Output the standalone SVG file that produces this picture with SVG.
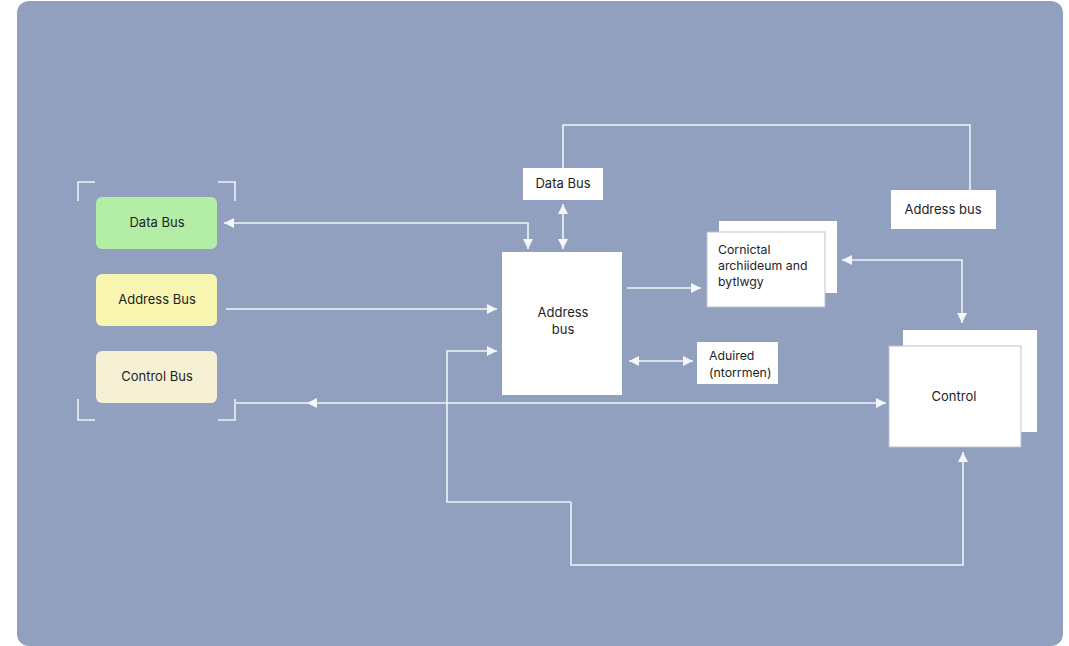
<svg xmlns="http://www.w3.org/2000/svg" width="1069" height="646" viewBox="0 0 1069 646">
<defs>
<marker id="ah" viewBox="0 0 10 10" refX="10" refY="5" markerWidth="10" markerHeight="10" markerUnits="userSpaceOnUse" orient="auto-start-reverse">
<path d="M0,0 L10,5 L0,10 z" fill="#f4f6fa"/>
</marker>
</defs>
<style>
.ln{fill:none;stroke:#f1f4f9;stroke-width:1.6}
.br{fill:none;stroke:#eef1f6;stroke-width:1.6}
.head{fill:#f4f6fa;stroke:none}
.box{fill:#ffffff}
.t{font-family:"Inter","Liberation Sans",sans-serif;font-size:13px;fill:#1e1e1e}
.ts{font-size:12.3px}
.tc{text-anchor:middle}
</style>
<rect x="17" y="1" width="1046" height="645" rx="12" fill="#91a0bf"/>

<g id="brackets">
<path class="br" d="M95,182 H78 V201"/>
<path class="br" d="M218,182 H235 V201"/>
<path class="br" d="M78,399 V420 H95"/>
<path class="br" d="M235,399 V420 H218"/>
</g>

<g id="connectors">
<path class="ln" d="M563,168 V125 H970 V190"/>
<path class="ln" d="M563,204 V249" marker-start="url(#ah)" marker-end="url(#ah)"/>
<path class="ln" d="M224,223 H528 V249" marker-start="url(#ah)" marker-end="url(#ah)"/>
<path class="ln" d="M226,309 H497" marker-end="url(#ah)"/>
<path class="ln" d="M571,502 H447 V351 H497" marker-end="url(#ah)"/>
<path class="ln" d="M571,502 V565 H963 V452" marker-end="url(#ah)"/>
<path class="ln" d="M627,288 H701" marker-end="url(#ah)"/>
<path class="ln" d="M629,361 H693" marker-start="url(#ah)" marker-end="url(#ah)"/>
<path class="ln" d="M842,260 H962 V323" marker-start="url(#ah)" marker-end="url(#ah)"/>
<path class="ln" d="M236,403 H886" marker-end="url(#ah)"/>
<path class="head" d="M317,398 L307,403 L317,408 z"/>
</g>

<g id="data-bus-left">
<rect x="96" y="197" width="121" height="52" rx="6" fill="#b4eea6"/>
<text class="t tc" x="157" y="227">Data Bus</text>
</g>
<g id="address-bus-left">
<rect x="96" y="274" width="121" height="52" rx="6" fill="#f7f5b0"/>
<text class="t tc" x="157" y="304">Address Bus</text>
</g>
<g id="control-bus-left">
<rect x="96" y="351" width="121" height="52" rx="6" fill="#f6f1d5"/>
<text class="t tc" x="157" y="381">Control Bus</text>
</g>

<g id="data-bus-top">
<rect class="box" x="523" y="168" width="80" height="32"/>
<text class="t tc" x="563" y="188">Data Bus</text>
</g>

<g id="address-bus-right">
<rect class="box" x="891" y="190" width="105" height="39"/>
<text class="t tc" x="943" y="214">Address bus</text>
</g>

<g id="address-bus-main">
<rect class="box" x="502" y="252" width="120" height="143"/>
<text class="t tc" x="563" y="317">Address</text>
<text class="t tc" x="563" y="334">bus</text>
</g>

<g id="cornictal">
<rect class="box" x="719" y="221" width="118" height="72"/>
<rect class="box" x="707" y="232" width="118" height="75" stroke="#b9c1d2" stroke-width="1"/>
<text class="t ts" x="718" y="254">Cornictal</text>
<text class="t ts" x="718" y="270">archiideum and</text>
<text class="t ts" x="718" y="286">bytlwgy</text>
</g>

<g id="aduired">
<rect class="box" x="697" y="342" width="81" height="42"/>
<text class="t ts" x="709" y="360">Aduired</text>
<text class="t ts" x="709" y="377">(ntorrmen)</text>
</g>

<g id="control">
<rect class="box" x="903" y="330" width="134" height="102"/>
<rect class="box" x="889" y="346" width="132" height="101" stroke="#b9c1d2" stroke-width="1"/>
<text class="t tc" x="954" y="401">Control</text>
</g>
</svg>
